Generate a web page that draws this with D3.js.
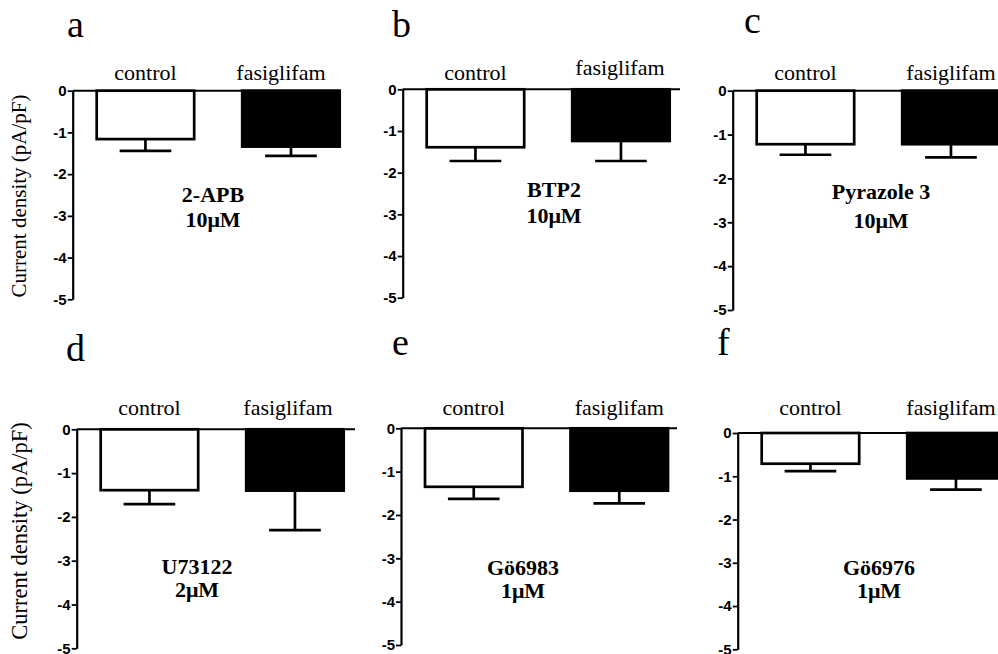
<!DOCTYPE html>
<html>
<head>
<meta charset="utf-8">
<script src="https://cdn.jsdelivr.net/npm/d3@7"></script>
<style>
  body { margin: 0; background: #fff; }
  svg { display: block; }
</style>
</head>
<body>
<div id="chart"></div>
<script>
// Data (current density, pA/pF)
const panelLetters = ["a", "b", "c", "d", "e", "f"];
const categories = ["control", "fasiglifam"];
const drugs = ["2-APB", "BTP2", "Pyrazole 3", "U73122", "Gö6983", "Gö6976"];
const doses = ["10μM", "10μM", "10μM", "2μM", "1μM", "1μM"];
const controlMean = [-1.16, -1.39, -1.22, -1.39, -1.35, -0.71];
const controlErr = [0.28, 0.33, 0.24, 0.32, 0.28, 0.17];
const fasigMean = [-1.34, -1.24, -1.22, -1.40, -1.44, -1.05];
const fasigErr = [0.22, 0.48, 0.30, 0.90, 0.29, 0.26];
const yTicks = [0, -1, -2, -3, -4, -5];
const yTitle = "Current density (pA/pF)";

const width = 998, height = 654;
const serif = "'Liberation Serif', 'Times New Roman', serif";
const sans = "'Liberation Sans', Arial, sans-serif";

// Panel placement
const layout = [
  { axisX: 72.7, top: 90.7, bottom: 299.3, lineEnd: 340, letterX: 67, letterY: 37, catY: [80, 80], fasShift: -10, drugX: 213, drugY: 202, doseY: 227, title: { x: 19, y: 196, size: 21 } },
  { axisX: 402.7, top: 89.3, bottom: 297.7, lineEnd: 680, letterX: 392, letterY: 37, catY: [80, 75], fasShift: -1, drugX: 554, drugY: 197, doseY: 223 },
  { axisX: 732.7, top: 90.7, bottom: 310, lineEnd: 998, letterX: 744, letterY: 33, catY: [80, 80], fasShift: 0, drugX: 881, drugY: 199, doseY: 228 },
  { axisX: 76.7, top: 429.3, bottom: 648.3, lineEnd: 355, letterX: 66, letterY: 361, catY: [415, 415], fasShift: -7, drugX: 197, drugY: 574, doseY: 597, title: { x: 19, y: 531, size: 22.5 } },
  { axisX: 401, top: 428.3, bottom: 645, lineEnd: 677, letterX: 392, letterY: 355, catY: [415, 415], fasShift: 0, drugX: 523, drugY: 575, doseY: 598 },
  { axisX: 737.7, top: 433, bottom: 649.3, lineEnd: 998, letterX: 717, letterY: 355, catY: [415, 415], fasShift: -5, drugX: 879, drugY: 575, doseY: 598 }
];

const svg = d3.select("#chart")
  .append("svg")
  .attr("width", width)
  .attr("height", height);

svg.append("rect").attr("width", width).attr("height", height).attr("fill", "#fff");

panelLetters.forEach((letter, i) => {
  const L = layout[i];
  const g = svg.append("g");

  const x = d3.scaleBand()
    .domain(categories)
    .range([L.axisX + 24, L.axisX + 267])
    .paddingInner(0.33)
    .paddingOuter(0);

  const y = d3.scaleLinear()
    .domain([0, -5])
    .range([L.top, L.bottom]);

  const rows = [
    { cat: "control", mean: controlMean[i], err: controlErr[i], fill: "#fff" },
    { cat: "fasiglifam", mean: fasigMean[i], err: fasigErr[i], fill: "#000" }
  ];

  // error bars (drawn first, below the bars)
  const capW = x.bandwidth() * 0.53;
  rows.forEach(d => {
    const cx = x(d.cat) + x.bandwidth() / 2;
    g.append("line")
      .attr("x1", cx).attr("x2", cx)
      .attr("y1", y(d.mean)).attr("y2", y(d.mean - d.err))
      .attr("stroke", "#000").attr("stroke-width", 2.7);
    g.append("line")
      .attr("x1", cx - capW / 2).attr("x2", cx + capW / 2)
      .attr("y1", y(d.mean - d.err)).attr("y2", y(d.mean - d.err))
      .attr("stroke", "#000").attr("stroke-width", 2.7);
  });

  // bars
  g.selectAll("rect.bar")
    .data(rows)
    .enter()
    .append("rect")
    .attr("class", "bar")
    .attr("x", d => x(d.cat))
    .attr("y", y(0))
    .attr("width", x.bandwidth())
    .attr("height", d => y(d.mean) - y(0))
    .attr("fill", d => d.fill)
    .attr("stroke", "#000")
    .attr("stroke-width", 2.7);

  // zero line
  g.append("line")
    .attr("x1", L.axisX).attr("x2", L.lineEnd)
    .attr("y1", y(0)).attr("y2", y(0))
    .attr("stroke", "#000").attr("stroke-width", 2);

  // y axis
  const axis = g.append("g")
    .attr("transform", `translate(${L.axisX},0)`)
    .call(d3.axisLeft(y)
      .tickValues(yTicks)
      .tickFormat(d => String(d))
      .tickSize(5)
      .tickSizeOuter(0)
      .tickPadding(1));
  axis.attr("font-size", null).attr("font-family", null);
  axis.select(".domain").attr("stroke-width", 2.2);
  axis.selectAll(".tick line").attr("stroke-width", 1.8);
  axis.selectAll(".tick text")
    .style("font-family", sans)
    .style("font-weight", "bold")
    .style("font-size", "15px")
    .attr("fill", "#000");

  // category labels
  g.selectAll("text.cat")
    .data(categories)
    .enter()
    .append("text")
    .attr("class", "cat")
    .attr("x", (d, j) => x(d) + x.bandwidth() / 2 + (j === 1 ? L.fasShift : 0))
    .attr("y", (d, j) => L.catY[j])
    .attr("text-anchor", "middle")
    .attr("font-family", serif)
    .attr("font-size", 22)
    .text(d => d);

  // panel letter
  g.append("text")
    .attr("x", L.letterX)
    .attr("y", L.letterY)
    .attr("font-family", serif)
    .attr("font-size", 38)
    .text(letter);

  // drug and dose
  g.append("text")
    .attr("x", L.drugX).attr("y", L.drugY)
    .attr("text-anchor", "middle")
    .attr("font-family", serif)
    .attr("font-weight", "bold")
    .attr("font-size", 22)
    .text(drugs[i]);
  g.append("text")
    .attr("x", L.drugX).attr("y", L.doseY)
    .attr("text-anchor", "middle")
    .attr("font-family", serif)
    .attr("font-weight", "bold")
    .attr("font-size", 22)
    .text(doses[i]);

  // y axis title (left column only)
  if (L.title) {
    g.append("text")
      .attr("transform", `translate(${L.title.x},${L.title.y}) rotate(-90)`)
      .attr("text-anchor", "middle")
      .attr("dominant-baseline", "central")
      .attr("font-family", serif)
      .attr("font-size", L.title.size)
      .text(yTitle);
  }
});
</script>
</body>
</html>
